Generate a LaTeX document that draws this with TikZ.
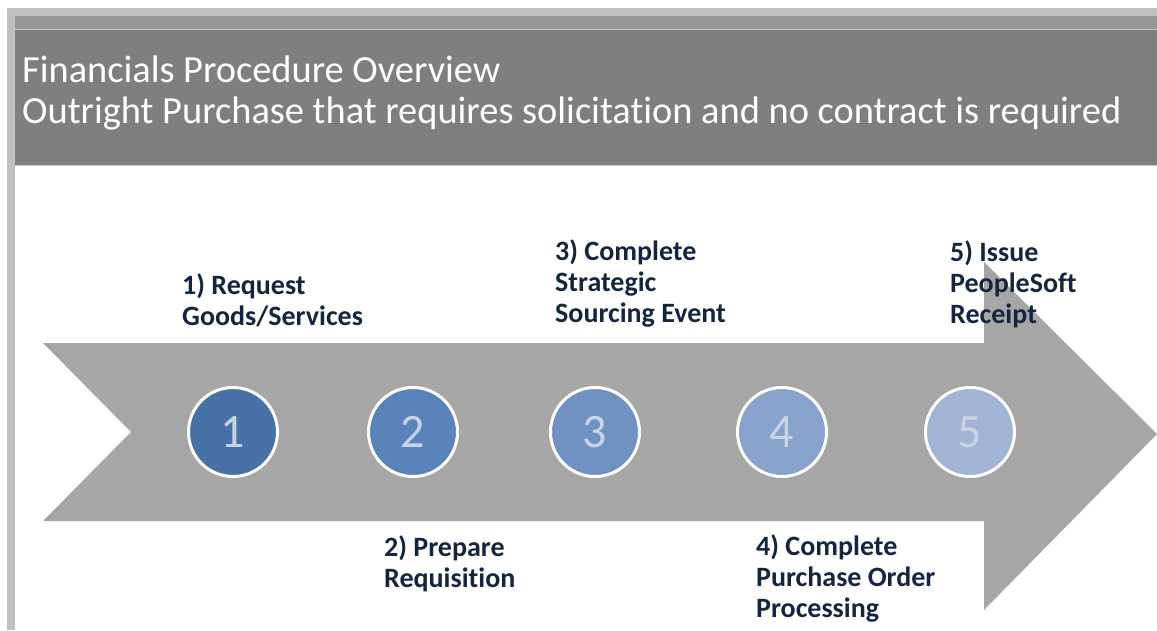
\documentclass[tikz,border=0pt]{standalone}
\usepackage{fontspec}
\setmainfont{Carlito}[Ligatures=NoCommon]
\definecolor{frame}{HTML}{BFBFBF}
\definecolor{bandmid}{HTML}{969696}
\definecolor{banddark}{HTML}{7F7F7F}
\definecolor{arrowgray}{HTML}{A6A6A6}
\definecolor{labelnavy}{HTML}{15253F}
\definecolor{numtext}{HTML}{C9D3E6}
\definecolor{stepA}{HTML}{4672A8}
\definecolor{stepB}{HTML}{5883BB}
\definecolor{stepC}{HTML}{7092C3}
\definecolor{stepD}{HTML}{87A2CB}
\definecolor{stepE}{HTML}{A1B4D6}
\tikzset{
  stepcircle/.style={circle, draw=white, line width=3pt, minimum size=89pt,
    inner sep=0pt, text=numtext, font=\fontsize{48}{48}\selectfont},
  % labels are anchored at the baseline of their last line
  steplabel/.style={anchor=base west, align=left, inner sep=0pt,
    text=labelnavy, font=\fontsize{28}{31}\selectfont\bfseries},
  headtext/.style={anchor=base west, inner sep=0pt, text=white,
    font=\fontsize{38.4}{40}\selectfont}
}
\begin{document}
\begin{tikzpicture}[x=1pt,y=-1pt]
  \useasboundingbox (0,0) rectangle (1157,630);
  \fill[white] (0,0) rectangle (1157,630);
  % outer frame strips
  \fill[frame] (7,8) rectangle (1157,16);
  \fill[frame] (7,8) rectangle (15,630);
  % header band
  \fill[bandmid] (15,16) rectangle (1157,29);
  \fill[frame] (15,29) rectangle (1157,30);
  \fill[banddark] (15,30) rectangle (1157,165);
  \fill[frame] (15,165) rectangle (1157,166);
  \node[headtext] (title) at (22,82) {Financials Procedure Overview};
  \node[headtext] (subtitle) at (22,123) {Outright Purchase that requires solicitation and no contract is required};
  % process arrow
  \fill[arrowgray] (43,343) -- (984,343) -- (984,262) -- (1157,434)
    -- (984,610) -- (984,521) -- (43,521) -- (131,432) -- cycle;
  % step circles
  \node[stepcircle, fill=stepA] (c1) at (233,432) {1};
  \node[stepcircle, fill=stepB] (c2) at (413,432) {2};
  \node[stepcircle, fill=stepC] (c3) at (595,432) {3};
  \node[stepcircle, fill=stepD] (c4) at (782,432) {4};
  \node[stepcircle, fill=stepE] (c5) at (970,432) {5};
  % step labels
  \node[steplabel] (l1) at (182,325) {1) Request\\Goods/Services};
  \node[steplabel] (l2) at (384,587) {2) Prepare\\Requisition};
  \node[steplabel] (l3) at (555,322) {3) Complete\\Strategic\\Sourcing Event};
  \node[steplabel] (l4) at (756,617) {4) Complete\\Purchase Order\\Processing};
  \node[steplabel] (l5) at (950,323) {5) Issue\\PeopleSoft\\Receipt};
\end{tikzpicture}
\end{document}
